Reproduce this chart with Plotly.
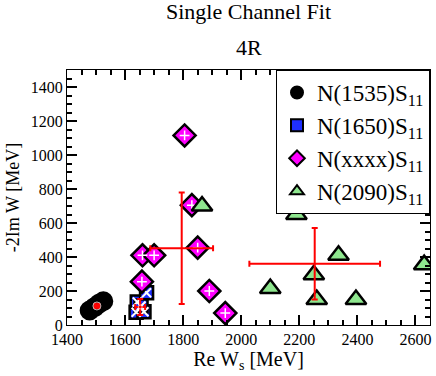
import plotly.graph_objects as go

# pole positions per resonance (Re W_s, -2 Im W) in MeV
n1535_re = [1478, 1495, 1510, 1525]
n1535_im = [85, 105, 125, 140]

n1650_re = [1638, 1665, 1642, 1674, 1655]
n1650_im = [75, 78, 135, 190, 112]

nxxxx_re = [1805, 1830, 1660, 1700, 1658, 1850, 1890, 1945]
nxxxx_im = [1115, 705, 410, 410, 255, 455, 200, 70]

n2090_re = [1865, 2190, 2335, 2250, 2100, 2260, 2395, 2630]
n2090_im = [700, 650, 410, 295, 215, 150, 150, 355]

# averages with spread
mean_re = [1503, 1652, 1795, 2253]
mean_im = [112, 106, 452, 360]
err_re = [8, 17, 108, 225]
err_im = [10, 47, 328, 210]

FONT = "Liberation Serif"

fig = go.Figure()

fig.add_trace(go.Scatter(
    x=n1535_re, y=n1535_im, mode="markers",
    name="N(1535)S<sub>11</sub>",
    marker=dict(symbol="circle", size=18, color="black",
                line=dict(color="black", width=2)),
))
fig.add_trace(go.Scatter(
    x=n1650_re, y=n1650_im, mode="markers",
    name="N(1650)S<sub>11</sub>",
    marker=dict(symbol="square", size=13, color="#1f2fff",
                line=dict(color="black", width=2.5)),
))
fig.add_trace(go.Scatter(
    x=n1650_re, y=n1650_im, mode="markers", showlegend=False,
    marker=dict(symbol="x-thin-open", size=9, color="white",
                line=dict(color="white", width=2)),
))
fig.add_trace(go.Scatter(
    x=nxxxx_re, y=nxxxx_im, mode="markers",
    name="N(xxxx)S<sub>11</sub>",
    marker=dict(symbol="diamond", size=17, color="#ff00ff",
                line=dict(color="black", width=2.5)),
))
fig.add_trace(go.Scatter(
    x=nxxxx_re, y=nxxxx_im, mode="markers", showlegend=False,
    marker=dict(symbol="cross-thin-open", size=7, color="white",
                line=dict(color="white", width=1.5)),
))
fig.add_trace(go.Scatter(
    x=n2090_re, y=n2090_im, mode="markers",
    name="N(2090)S<sub>11</sub>",
    marker=dict(symbol="triangle-up", size=18, color="#8ee68e",
                line=dict(color="black", width=2.5)),
))
fig.add_trace(go.Scatter(
    x=mean_re, y=mean_im, mode="markers", showlegend=False,
    marker=dict(symbol="circle", size=[8, 4, 0, 0], color="red"),
    error_x=dict(type="data", array=err_re, color="red", thickness=2, width=3),
    error_y=dict(type="data", array=err_im, color="red", thickness=2, width=3),
))

axis_common = dict(
    showline=True, linecolor="black", linewidth=1, mirror="ticks",
    ticks="inside", ticklen=10, tickcolor="black", tickwidth=1.5,
    showgrid=False, zeroline=False,
    tickfont=dict(family=FONT, size=16, color="black"),
    minor=dict(ticks="inside", ticklen=5, tickcolor="black", dtick=50),
)

fig.update_xaxes(range=[1400, 2650], dtick=200, tick0=1400,
                 title=dict(text="Re W<sub>s</sub> [MeV]", standoff=3,
                            font=dict(family=FONT, size=20, color="black")),
                 **axis_common)
fig.update_yaxes(range=[0, 1500], dtick=200, tick0=0,
                 title=dict(text="-2Im W [MeV]", standoff=6,
                            font=dict(family=FONT, size=18, color="black")),
                 **axis_common)

fig.update_layout(
    width=436, height=376,
    margin=dict(l=67, r=6, t=70, b=51),
    plot_bgcolor="white", paper_bgcolor="white",
    font=dict(family=FONT, color="black"),
    showlegend=True,
    legend=dict(x=1, y=1, xanchor="right", yanchor="top",
                bordercolor="black", borderwidth=1, bgcolor="white",
                font=dict(family=FONT, size=23, color="black"),
                itemsizing="constant", tracegroupgap=0),
    annotations=[
        dict(text="Single Channel Fit", x=0.5, y=1, xref="paper", yref="paper",
             yanchor="bottom", yshift=44, showarrow=False,
             font=dict(family=FONT, size=22, color="black")),
        dict(text="4R", x=0.5, y=1, xref="paper", yref="paper",
             yanchor="bottom", yshift=8, showarrow=False,
             font=dict(family=FONT, size=22, color="black")),
    ],
)

# drop the default page margin so the figure sits at the top-left corner
fig.write_html("out.html", config={"displayModeBar": False},
               post_script="document.body.style.margin = '0';")
